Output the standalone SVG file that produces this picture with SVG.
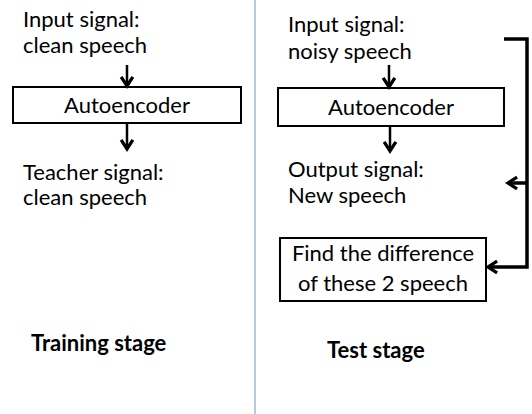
<svg xmlns="http://www.w3.org/2000/svg" width="532" height="414" viewBox="0 0 532 414">
<style>
text{font-family:Lato,"Liberation Sans",sans-serif;font-size:22px;fill:#000}
.c{text-anchor:middle}
.b{font-weight:bold;font-size:22px}
.box{fill:#fff;stroke:#000;stroke-width:2}
.arr{fill:none;stroke:#000;stroke-width:2.5}
.br{fill:none;stroke:#000;stroke-width:3.5}
</style>
<defs>
<marker id="ah2" viewBox="0 0 10 10" refX="8" refY="5" markerWidth="13" markerHeight="13" markerUnits="userSpaceOnUse" orient="auto" overflow="visible">
<path d="M1,0.5 L8,5 L1,9.5" fill="none" stroke="#000" stroke-width="2.5"/>
</marker>
</defs>
<line x1="255" y1="0" x2="255" y2="414" stroke="#9bb7d9" stroke-width="1.5"/>
<g id="train-input"><text x="23" y="27">Input signal:</text><text x="23" y="53">clean speech</text></g>
<g id="train-ae"><rect class="box" x="13" y="87" width="228" height="36"/><text class="c" x="127" y="113">Autoencoder</text></g>
<g id="train-teacher"><text x="23" y="180">Teacher signal:</text><text x="23" y="205">clean speech</text></g>
<g id="train-label"><text class="b" x="31" y="351">Training stage</text></g>
<g id="test-input"><text x="288" y="32">Input signal:</text><text x="288" y="59">noisy speech</text></g>
<g id="test-ae"><rect class="box" x="278" y="88" width="226" height="38"/><text class="c" x="391" y="115">Autoencoder</text></g>
<g id="test-output"><text x="288" y="177">Output signal:</text><text x="288" y="203">New speech</text></g>
<g id="test-diff"><rect class="box" x="280" y="238" width="206" height="63"/><text class="c" x="383" y="261">Find the difference</text><text class="c" x="383" y="291">of these 2 speech</text></g>
<g id="test-label"><text class="b" x="327" y="358">Test stage</text></g>
<g id="connectors">
<line class="arr" x1="127" y1="65" x2="127" y2="86" marker-end="url(#ah2)"/>
<line class="arr" x1="127" y1="124" x2="127" y2="149" marker-end="url(#ah2)"/>
<line class="arr" x1="389" y1="65" x2="389" y2="87" marker-end="url(#ah2)"/>
<line class="arr" x1="390" y1="127" x2="390" y2="151" marker-end="url(#ah2)"/>
<polyline class="br" points="504,39 527,39 527,267 488,267" marker-end="url(#ah2)"/>
<line class="br" x1="527" y1="183" x2="508" y2="183" marker-end="url(#ah2)"/>
</g>
</svg>
